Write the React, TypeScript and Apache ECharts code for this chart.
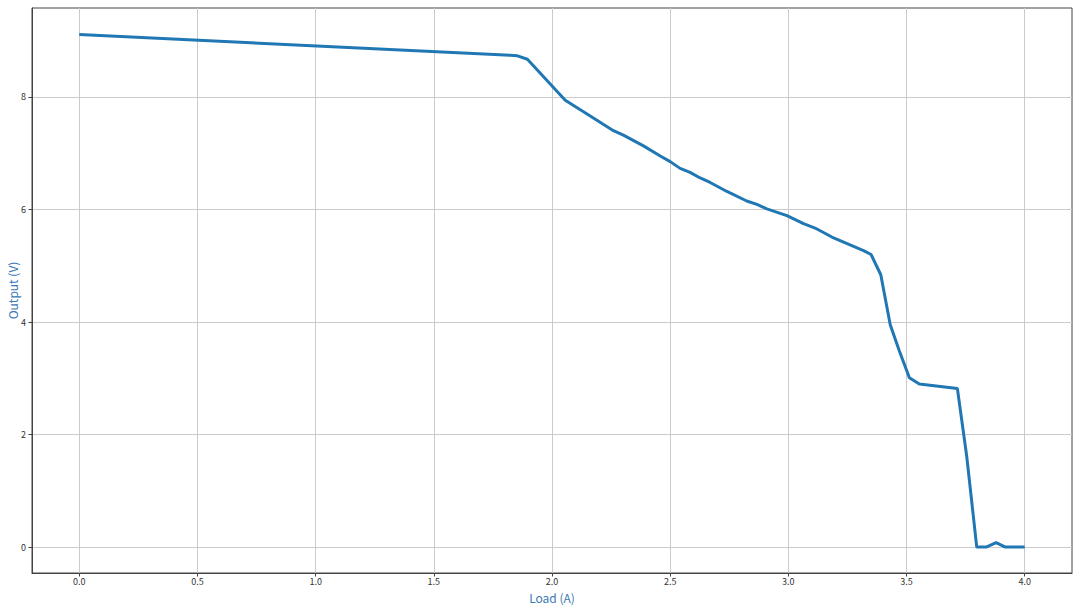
import React, { useEffect, useRef } from "react";
import * as echarts from "echarts";

const loadA: number[] = [
  0, 1.823, 1.854, 1.896, 2.056, 2.14, 2.26, 2.302, 2.387, 2.458, 2.5, 2.542,
  2.584, 2.627, 2.669, 2.74, 2.824, 2.867, 2.909, 2.994, 3.064, 3.113, 3.184,
  3.261, 3.318, 3.35, 3.391, 3.431, 3.47, 3.512, 3.554, 3.715, 3.755, 3.797,
  3.837, 3.879, 3.918, 4.0,
];
const outputV: number[] = [
  9.11, 8.74, 8.73, 8.67, 7.94, 7.72, 7.4, 7.32, 7.13, 6.95, 6.85, 6.73,
  6.66, 6.56, 6.48, 6.32, 6.15, 6.09, 6.01, 5.89, 5.75, 5.67, 5.51,
  5.37, 5.27, 5.2, 4.84, 3.95, 3.48, 3.01, 2.9, 2.82, 1.6, 0,
  0, 0.08, 0, 0,
];
const xTicks: number[] = [0, 0.5, 1, 1.5, 2, 2.5, 3, 3.5, 4];
const yTicks: number[] = [0, 2, 4, 6, 8];

export default function App() {
  const ref = useRef<HTMLDivElement>(null);
  useEffect(() => {
    if (!ref.current) return;
    const chart = echarts.init(ref.current, null, { renderer: "svg" });
    const labelFont = "'Noto Sans CJK SC', 'DejaVu Sans', sans-serif";
    chart.setOption({
      animation: false,
      backgroundColor: "#ffffff",
      grid: {
        left: 32,
        right: 8,
        top: 8,
        bottom: 35,
        containLabel: false,
        outerBoundsMode: "none",
        show: true,
        borderColor: "#444",
        borderWidth: 1,
        backgroundColor: "transparent",
      },
      xAxis: {
        type: "value",
        min: -0.2,
        max: 4.2,
        name: "Load (A)",
        nameLocation: "middle",
        nameGap: 18,
        nameMoveOverlap: false,
        nameTextStyle: {
          color: "#3b78b5",
          fontSize: 12,
          lineHeight: 12,
          fontFamily: labelFont,
        },
        axisLine: { show: true, onZero: false, lineStyle: { color: "#444", width: 1 } },
        axisTick: {
          show: true,
          length: 3.5,
          lineStyle: { color: "#444" },
          customValues: xTicks,
        },
        axisLabel: {
          customValues: xTicks,
          margin: 4,
          fontSize: 9,
          lineHeight: 9,
          color: "#333",
          fontFamily: labelFont,
          formatter: (v: number) => v.toFixed(1),
        },
        splitLine: { show: true, lineStyle: { color: "#cbcbcb", width: 1 } },
      },
      yAxis: {
        type: "value",
        min: -0.46,
        max: 9.58,
        name: "Output (V)",
        nameLocation: "middle",
        nameGap: 14,
        nameMoveOverlap: false,
        nameRotate: 90,
        nameTextStyle: {
          color: "#3b78b5",
          fontSize: 12,
          lineHeight: 12,
          fontFamily: labelFont,
        },
        axisLine: { show: true, onZero: false, lineStyle: { color: "#444", width: 1 } },
        axisTick: {
          show: true,
          length: 3.5,
          lineStyle: { color: "#444" },
          customValues: yTicks,
        },
        axisLabel: {
          customValues: yTicks,
          margin: 6,
          fontSize: 9,
          lineHeight: 9,
          color: "#333",
          fontFamily: labelFont,
          formatter: (v: number) => String(v),
        },
        splitLine: { show: true, lineStyle: { color: "#cbcbcb", width: 1 } },
      },
      series: [
        {
          type: "line",
          data: loadA.map((x, i) => [x, outputV[i]]),
          showSymbol: false,
          symbol: "none",
          lineStyle: { color: "#1f77b4", width: 3 },
          z: 3,
        },
      ],
    });
    return () => chart.dispose();
  }, []);
  return (
    <div
      ref={ref}
      style={{ position: "fixed", left: 0, top: 0, width: 1080, height: 608 }}
    />
  );
}
